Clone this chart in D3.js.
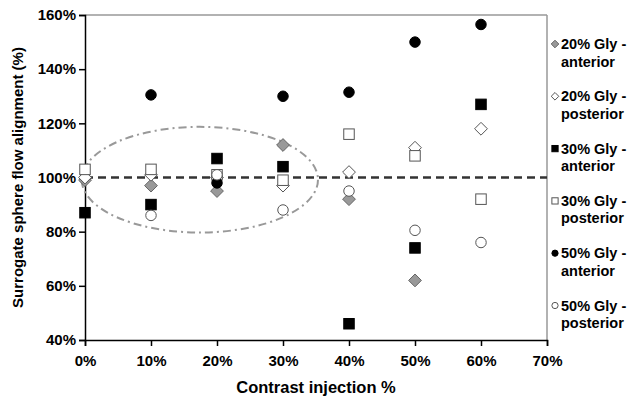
<!DOCTYPE html>
<html><head><meta charset="utf-8">
<script src="https://cdn.jsdelivr.net/npm/d3@7"></script>
<style>body{margin:0;background:#fff}svg{display:block}text{font-family:"Liberation Sans",Arial,sans-serif;font-weight:bold}</style>
</head><body><svg id="c" width="633" height="402"></svg>
<script>
const xValues = [0, 10, 20, 30, 40, 50, 60];
const gly20Anterior  = [99, 97, 95, 112, 92, 62, null];
const gly20Posterior = [100, 101, 100, 97, 102, 111, 118];
const gly30Anterior  = [87, 90, 107, 104, 46, 74, 127];
const gly30Posterior = [103, 103, 101, 99, 116, 108, 92];
const gly50Anterior  = [null, 130.5, 98, 130, 131.5, 150, 156.5];
const gly50Posterior = [null, 86, 101, 88, 95, 80.5, 76];
const seriesNames = ["20% Gly - anterior","20% Gly - posterior","30% Gly - anterior","30% Gly - posterior","50% Gly - anterior","50% Gly - posterior"];
const xTicks = [0,10,20,30,40,50,60,70];
const yTicks = [40,60,80,100,120,140,160];
const referenceLine = 100;
const ellipseCenter = [17.4, 99.2];
const ellipseRadii = [17.9, 19.5];

const series = [
  {name: seriesNames[0], values: gly20Anterior, shape: "diamond", fill: "#999999", stroke: "#666666"},
  {name: seriesNames[1], values: gly20Posterior, shape: "diamond", fill: "#ffffff", stroke: "#555555"},
  {name: seriesNames[2], values: gly30Anterior, shape: "square", fill: "#000000", stroke: "#000000"},
  {name: seriesNames[3], values: gly30Posterior, shape: "square", fill: "#ffffff", stroke: "#555555"},
  {name: seriesNames[4], values: gly50Anterior, shape: "circle", fill: "#000000", stroke: "#000000"},
  {name: seriesNames[5], values: gly50Posterior, shape: "circle", fill: "#ffffff", stroke: "#555555"}
];

const svg = d3.select("#c");
const L = 85, R = 547, T = 15, B = 340;
const x = d3.scaleLinear().domain([0,70]).range([L,R]);
const y = d3.scaleLinear().domain([40,160]).range([B,T]);

// frame top/right
svg.append("line").attr("x1",L).attr("x2",R).attr("y1",T).attr("y2",T).attr("stroke","#999").attr("stroke-width",1.5);
svg.append("line").attr("x1",R).attr("x2",R).attr("y1",T).attr("y2",B).attr("stroke","#999").attr("stroke-width",1.5);

const xAxis = svg.append("g").attr("transform",`translate(0,${B})`)
  .call(d3.axisBottom(x).tickValues(xTicks).tickSize(6).tickFormat(d=>d+"%"));
const yAxis = svg.append("g").attr("transform",`translate(${L},0)`)
  .call(d3.axisLeft(y).tickValues(yTicks).tickSize(6).tickFormat(d=>d+"%"));
[xAxis,yAxis].forEach(g=>{
  g.select(".domain").attr("stroke","#000").attr("stroke-width",1.5);
  g.selectAll(".tick line").attr("stroke","#000").attr("stroke-width",1.5);
  g.selectAll("text").attr("fill","#000").style("font-size","15px").style("font-weight","bold").style("font-family","Liberation Sans, Arial, sans-serif");
});
xAxis.selectAll("text").attr("dy","1.15em");
yAxis.selectAll("text").attr("x",-9);

// ellipse
svg.append("ellipse")
  .attr("cx", x(ellipseCenter[0])).attr("cy", y(ellipseCenter[1]))
  .attr("rx", x(ellipseRadii[0]) - x(0)).attr("ry", y(0) - y(ellipseRadii[1]))
  .attr("fill","none").attr("stroke","#999").attr("stroke-width",2)
  .attr("stroke-dasharray","8,4,2,4");

// reference line
svg.append("line").attr("x1",x(0)).attr("x2",x(70)).attr("y1",y(referenceLine)).attr("y2",y(referenceLine))
  .attr("stroke","#333").attr("stroke-width",2.5).attr("stroke-dasharray","8,5");

function drawMarker(g, shape, size){
  if(shape==="diamond") return g.append("path").attr("d",`M0,${-size}L${size},0L0,${size}L${-size},0Z`);
  if(shape==="square") return g.append("rect").attr("x",-size*0.82).attr("y",-size*0.82).attr("width",size*1.64).attr("height",size*1.64);
  return g.append("circle").attr("r",size*0.82);
}

series.forEach(s=>{
  const g = svg.append("g");
  s.values.forEach((v,i)=>{
    if(v==null) return;
    const m = g.append("g").attr("transform",`translate(${x(xValues[i])},${y(v)})`);
    drawMarker(m, s.shape, 6.4).attr("fill",s.fill).attr("stroke",s.stroke).attr("stroke-width",1);
  });
});

// legend
const lg = svg.append("g");
series.forEach((s,i)=>{
  const yy = 49 + i*52.3;
  const m = lg.append("g").attr("transform",`translate(555,${yy-5})`);
  drawMarker(m, s.shape, 3.8).attr("fill",s.fill).attr("stroke",s.stroke).attr("stroke-width",1);
  const parts = s.name.split(" - ");
  const t = lg.append("text").attr("x",561).attr("y",yy).style("font-size","14.5px").attr("fill","#000");
  t.append("tspan").attr("x",561).text(parts[0]+" -");
  t.append("tspan").attr("x",561).attr("dy",17.5).text(parts[1]);
});

// titles
svg.append("text").attr("x",316).attr("y",393).attr("text-anchor","middle").style("font-size","16.5px").text("Contrast injection %");
svg.append("text").attr("transform",`translate(23,${(T+B)/2}) rotate(-90)`).attr("text-anchor","middle").style("font-size","15px").text("Surrogate sphere flow alignment (%)");
</script></body></html>
